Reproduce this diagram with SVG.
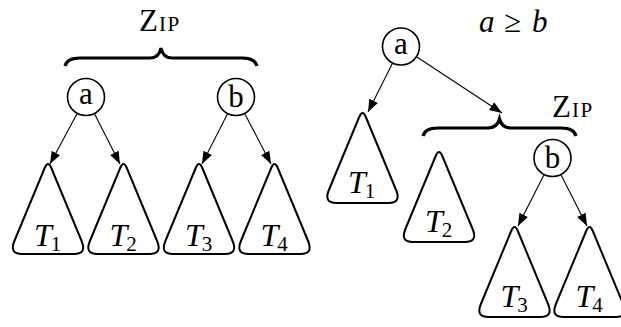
<svg xmlns="http://www.w3.org/2000/svg" width="621" height="327" viewBox="0 0 621 327" font-family="'Liberation Serif', 'Times New Roman', 'DejaVu Serif', serif">
<style>
.tri{fill:#fff;stroke:#000;stroke-width:2;stroke-linejoin:round}
.node{fill:#fff;stroke:#000;stroke-width:1.6}
.edge{stroke:#000;stroke-width:1.1;fill:none}
.brace{fill:none;stroke:#000;stroke-width:3.2;stroke-linecap:butt}
text{font-family:'Liberation Serif','Times New Roman','DejaVu Serif',serif;fill:#000}
.lbl{font-size:31px}
.tl{font-size:32px;font-style:italic}
.sub{font-size:21px;font-style:normal}
.zip{font-size:31px}
.sc{font-size:21px}
</style>
<defs>
<marker id="ah" markerUnits="userSpaceOnUse" markerWidth="13" markerHeight="10" refX="12.5" refY="4.75" orient="auto">
<path d="M0,0 L12.5,4.75 L0,9.5 Z" fill="#000"/>
</marker>
<path id="tshape" d="M-3.3,2 Q0,-6 3.3,2 L33.6,75 Q39,88 26,88 L-26,88 Q-39,88 -33.6,75 Z"/>
</defs>

<g id="zip-left">
<text class="zip" y="31"><tspan x="139">Z</tspan><tspan class="sc" x="159">I</tspan><tspan class="sc" x="167.5">P</tspan></text>
<path class="brace" d="M65,66 Q67,58 80,58 L150,58 Q159,58 161,48 Q163,58 172,58 L242,58 Q255,58 257,66"/>
</g>

<g id="connectors">
<line class="edge" x1="77" y1="113.7" x2="50" y2="164" marker-end="url(#ah)"/>
<line class="edge" x1="94.6" y1="114" x2="120" y2="164" marker-end="url(#ah)"/>
<line class="edge" x1="227.4" y1="114" x2="202" y2="164" marker-end="url(#ah)"/>
<line class="edge" x1="244.8" y1="113.8" x2="271" y2="164" marker-end="url(#ah)"/>
<line class="edge" x1="392.4" y1="63.5" x2="368" y2="112" marker-end="url(#ah)"/>
<line class="edge" x1="416.9" y1="57" x2="502" y2="113" marker-end="url(#ah)"/>
<line class="edge" x1="543.9" y1="175" x2="518" y2="226" marker-end="url(#ah)"/>
<line class="edge" x1="561.1" y1="175" x2="587" y2="226" marker-end="url(#ah)"/>
</g>

<g id="node-a-left">
<circle class="node" cx="86" cy="97" r="18.5"/>
<text class="lbl" x="86" y="104" text-anchor="middle">a</text>
</g>
<g id="node-b-left">
<circle class="node" cx="236" cy="97" r="18.5"/>
<text class="lbl" x="236" y="107" text-anchor="middle">b</text>
</g>

<g id="T1-left">
<use href="#tshape" class="tri" x="48" y="166"/>
<text class="tl" x="34" y="246">T<tspan class="sub" dx="-1" dy="5">1</tspan></text>
</g>
<g id="T2-left">
<use href="#tshape" class="tri" x="123.5" y="166"/>
<text class="tl" x="109.5" y="246">T<tspan class="sub" dx="-1" dy="5">2</tspan></text>
</g>
<g id="T3-left">
<use href="#tshape" class="tri" x="199" y="166"/>
<text class="tl" x="185" y="246">T<tspan class="sub" dx="-1" dy="5">3</tspan></text>
</g>
<g id="T4-left">
<use href="#tshape" class="tri" x="274.5" y="166"/>
<text class="tl" x="260.5" y="246">T<tspan class="sub" dx="-1" dy="5">4</tspan></text>
</g>

<g id="condition">
<text class="lbl" y="32"><tspan x="479" font-style="italic">a</tspan><tspan x="504">≥</tspan><tspan x="532" font-style="italic">b</tspan></text>
</g>

<g id="node-a-right">
<circle class="node" cx="401" cy="46.5" r="18.5"/>
<text class="lbl" x="401" y="53.5" text-anchor="middle">a</text>
</g>

<g id="zip-right">
<text class="zip" y="117"><tspan x="552">Z</tspan><tspan class="sc" x="572">I</tspan><tspan class="sc" x="580.5">P</tspan></text>
<path class="brace" d="M423,136 Q425,128 438,128 L488,128 Q497,128 499.5,119 Q502,128 511,128 L561,128 Q574,128 576,136"/>
</g>

<g id="node-b-right">
<circle class="node" cx="552.5" cy="158" r="18.5"/>
<text class="lbl" x="552.5" y="168" text-anchor="middle">b</text>
</g>

<g id="T1-right">
<use href="#tshape" class="tri" x="362.5" y="115"/>
<text class="tl" x="348" y="193">T<tspan class="sub" dx="-1" dy="5">1</tspan></text>
</g>
<g id="T2-right">
<use href="#tshape" class="tri" x="439" y="154"/>
<text class="tl" x="425" y="232">T<tspan class="sub" dx="-1" dy="5">2</tspan></text>
</g>
<g id="T3-right">
<use href="#tshape" class="tri" x="514.5" y="229"/>
<text class="tl" x="500.5" y="307">T<tspan class="sub" dx="-1" dy="5">3</tspan></text>
</g>
<g id="T4-right">
<use href="#tshape" class="tri" x="589.5" y="229"/>
<text class="tl" x="575.5" y="307">T<tspan class="sub" dx="-1" dy="5">4</tspan></text>
</g>
</svg>
